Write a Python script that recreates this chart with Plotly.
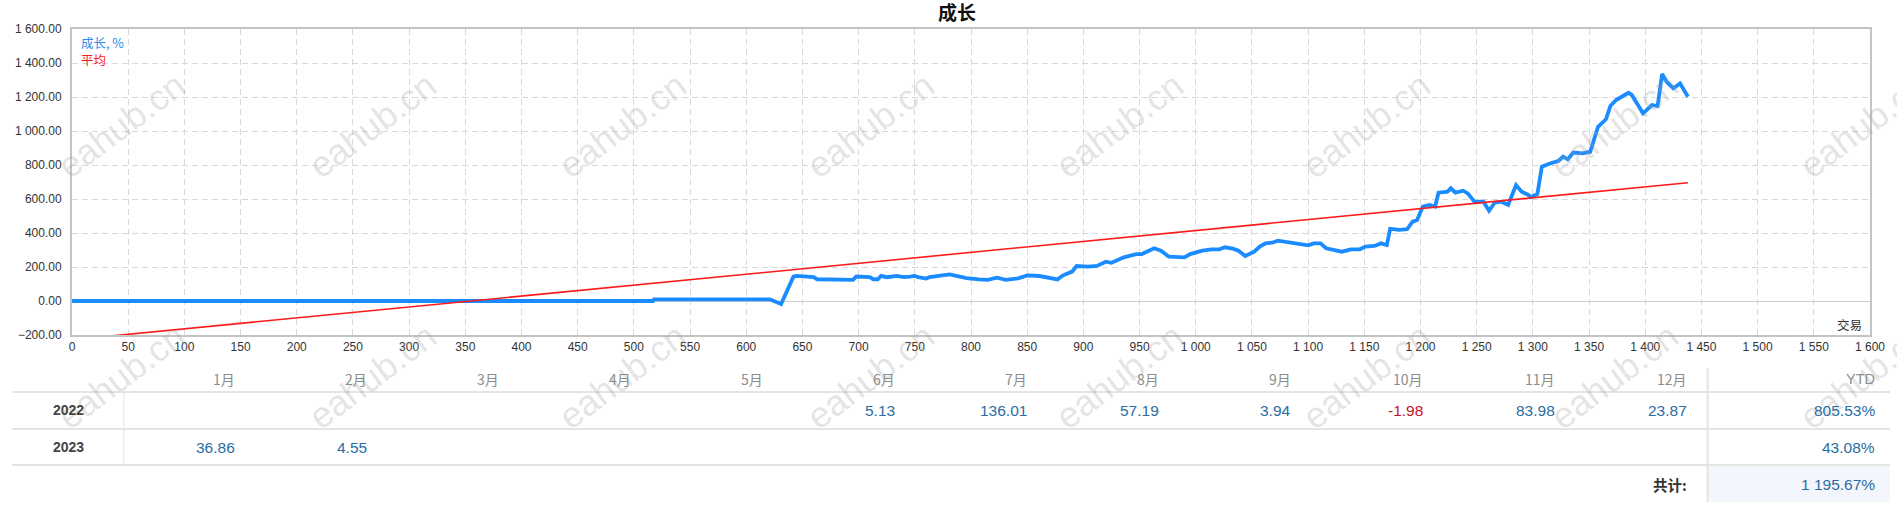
import plotly.graph_objects as go

# growth curve (trade number -> growth %)
trades = [0, 517, 518, 621, 631, 642, 645, 660, 663, 695, 698, 710, 713, 717, 720, 725,
          734, 740, 746, 750, 753, 760, 763, 775, 781, 787, 796, 807, 815, 823, 831, 842,
          850, 861, 869, 877, 882, 890, 894, 904, 912, 920, 925, 936, 947, 952, 963, 969,
          976, 984, 990, 995, 1006, 1014, 1021, 1026, 1033, 1038, 1044, 1052, 1057, 1062,
          1068, 1073, 1081, 1092, 1100, 1105, 1111, 1116, 1124, 1130, 1138, 1146, 1151,
          1159, 1165, 1170, 1173, 1181, 1188, 1193, 1197, 1202, 1208, 1213, 1216, 1224,
          1227, 1231, 1238, 1242, 1248, 1256, 1261, 1266, 1272, 1278, 1285, 1290, 1296,
          1298, 1304, 1308, 1314, 1323, 1327, 1331, 1336, 1344, 1351, 1358, 1365, 1369,
          1374, 1379, 1385, 1388, 1398, 1406, 1411, 1415, 1419, 1425, 1431, 1438]
growth = [0, 0, 10, 10, -18, 143, 148, 140, 128, 124, 144, 140, 128, 128, 148, 140,
          148, 140, 144, 148, 140, 132, 140, 150, 156, 148, 135, 127, 124, 137, 124, 133,
          151, 147, 139, 127, 151, 173, 206, 202, 206, 231, 225, 257, 276, 276, 310, 296,
          261, 261, 257, 276, 296, 304, 304, 316, 308, 296, 265, 290, 320, 339,
          343, 355, 347, 335, 327, 339, 339, 310, 296, 290, 304, 304, 320,
          324, 339, 329, 425, 418, 422, 467, 476, 555, 565, 555, 637, 643,
          663, 637, 649, 633, 584, 584, 531, 578, 584, 565, 682, 643, 624,
          610, 629, 790, 806, 825, 849, 833, 873, 869, 878, 1025, 1069, 1147,
          1182, 1202, 1225, 1212, 1104, 1153, 1147, 1335, 1290, 1251, 1280, 1202]

# average (trend) line
avg_x = [0, 1438]
avg_y = [-228, 696]

# monthly table
months = ["1月", "2月", "3月", "4月", "5月", "6月", "7月", "8月", "9月", "10月", "11月", "12月"]
years = ["2022", "2023"]
monthly = {
    "2022": [None, None, None, None, None, 5.13, 136.01, 57.19, 3.94, -1.98, 83.98, 23.87],
    "2023": [36.86, 4.55, None, None, None, None, None, None, None, None, None, None],
}
ytd = {"2022": "805.53%", "2023": "43.08%"}
total = "1 195.67%"

# plot area in pixels
L, R, T, B = 72, 1877, 29, 335
W, H = 1897, 524


def px(p):
    return (p - L) / (R - L)


def py(p):
    return (B - p) / (B - T)


font_main = "Liberation Sans, Noto Sans CJK SC, sans-serif"
cjk = "Noto Sans CJK SC, Liberation Sans, sans-serif"
val_size = 15.5

fig = go.Figure()
fig.add_trace(go.Scatter(x=trades, y=growth, mode="lines",
                         line=dict(color="#1a8cff", width=3.8), hoverinfo="x+y"))
fig.add_trace(go.Scatter(x=avg_x, y=avg_y, mode="lines",
                         line=dict(color="#ff1a1a", width=1.6), hoverinfo="skip"))

ann = []
shapes = []

# watermark (drawn first so the table text sits on top)
for wy in [125, 376]:
    for wx in [121, 373, 624, 873, 1123, 1371, 1620, 1870]:
        ann.append(dict(x=px(wx), y=py(wy), xref="paper", yref="paper", text="eahub.cn",
                        showarrow=False, xanchor="center", yanchor="middle", textangle=-37,
                        font=dict(size=36, color="rgba(160,160,160,0.28)", family=font_main)))

# legend-like labels inside the plot
ann.append(dict(x=px(79), y=py(43), xref="paper", yref="paper", text="成长, %",
                showarrow=False, xanchor="left", yanchor="middle",
                font=dict(size=12.5, color="#2f8ae6", family=cjk)))
ann.append(dict(x=px(79), y=py(60), xref="paper", yref="paper", text="平均",
                showarrow=False, xanchor="left", yanchor="middle",
                font=dict(size=12.5, color="#ff1a1a", family=cjk)))
ann.append(dict(x=px(1871), y=py(324), xref="paper", yref="paper", text="交易",
                showarrow=False, xanchor="right", yanchor="middle",
                font=dict(size=12.5, color="#333333", family=cjk)))

# table grid
for yl in [392, 429, 465]:
    shapes.append(dict(type="line", xref="paper", yref="paper", x0=px(12), x1=px(W),
                       y0=py(yl), y1=py(yl), line=dict(color="#e4e4e4", width=2)))
shapes.append(dict(type="line", xref="paper", yref="paper", x0=px(124), x1=px(124),
                   y0=py(392), y1=py(465), line=dict(color="#e4e4e4", width=1)))
shapes.append(dict(type="rect", xref="paper", yref="paper", x0=px(1714), x1=px(W),
                   y0=py(466), y1=py(502), fillcolor="#f3f6fc", line=dict(width=0)))
shapes.append(dict(type="line", xref="paper", yref="paper", x0=px(1714), x1=px(1714),
                   y0=py(368), y1=py(502), line=dict(color="#e4e4e4", width=2)))

col_right = [238 + 132.5 * i for i in range(12)]
for m, xr in zip(months, col_right):
    ann.append(dict(x=px(xr), y=py(379), xref="paper", yref="paper", text=m,
                    showarrow=False, xanchor="right", yanchor="middle",
                    font=dict(size=14, color="#8c8c8c", family=cjk)))
ann.append(dict(x=px(1884), y=py(379), xref="paper", yref="paper", text="YTD",
                showarrow=False, xanchor="right", yanchor="middle",
                font=dict(size=14.5, color="#8c8c8c", family=font_main)))

row_y = {"2022": 410, "2023": 447}
for yr in years:
    ann.append(dict(x=px(68), y=py(row_y[yr]), xref="paper", yref="paper",
                    text="<b>" + yr + "</b>", showarrow=False, xanchor="center",
                    yanchor="middle", font=dict(size=14, color="#444444", family=font_main)))
    for v, xr in zip(monthly[yr], col_right):
        if v is None:
            continue
        ann.append(dict(x=px(xr), y=py(row_y[yr]), xref="paper", yref="paper",
                        text=f"{v:.2f}", showarrow=False, xanchor="right", yanchor="middle",
                        font=dict(size=val_size, color="#c8102e" if v < 0 else "#2b6ca3",
                                  family=font_main)))
    ann.append(dict(x=px(1884), y=py(row_y[yr]), xref="paper", yref="paper",
                    text=ytd[yr], showarrow=False, xanchor="right", yanchor="middle",
                    font=dict(size=val_size, color="#2b6ca3", family=font_main)))

ann.append(dict(x=px(1695), y=py(484), xref="paper", yref="paper", text="<b>共计:</b>",
                showarrow=False, xanchor="right", yanchor="middle",
                font=dict(size=14.5, color="#333333", family=cjk)))
ann.append(dict(x=px(1884), y=py(484), xref="paper", yref="paper", text=total,
                showarrow=False, xanchor="right", yanchor="middle",
                font=dict(size=val_size, color="#2b6ca3", family=font_main)))

fig.update_layout(
    width=W, height=H, autosize=False,
    margin=dict(l=L, r=W - R, t=T, b=H - B),
    paper_bgcolor="white", plot_bgcolor="white",
    showlegend=False,
    separators=". ",
    font=dict(family=font_main, size=12, color="#333333"),
    title=dict(text="<b>成长</b>", x=957 / W, xref="container", xanchor="center",
               y=1 - 13 / H, yanchor="middle", font=dict(size=19, color="#111111", family=cjk)),
    xaxis=dict(range=[0, 1600], dtick=50, tick0=0, tickformat=",d",
               showgrid=True, gridcolor="#d8d8d8", griddash="6px,4px", gridwidth=1,
               showline=True, mirror=True, linecolor="#c4c4c4", linewidth=2,
               zeroline=False, ticks="", tickfont=dict(size=12, color="#333333")),
    yaxis=dict(range=[-200, 1600], dtick=200, tick0=0, tickformat=",.2f",
               showgrid=True, gridcolor="#d8d8d8", griddash="6px,4px", gridwidth=1,
               showline=True, mirror=True, linecolor="#c4c4c4", linewidth=2,
               zeroline=True, zerolinecolor="#cccccc", zerolinewidth=1,
               ticks="outside", ticklen=6, tickcolor="rgba(0,0,0,0)",
               tickfont=dict(size=12, color="#333333")),
    annotations=ann,
    shapes=shapes,
)

fig.write_html("out.html", config={"displayModeBar": False},
               post_script="document.body.style.margin='0';")
